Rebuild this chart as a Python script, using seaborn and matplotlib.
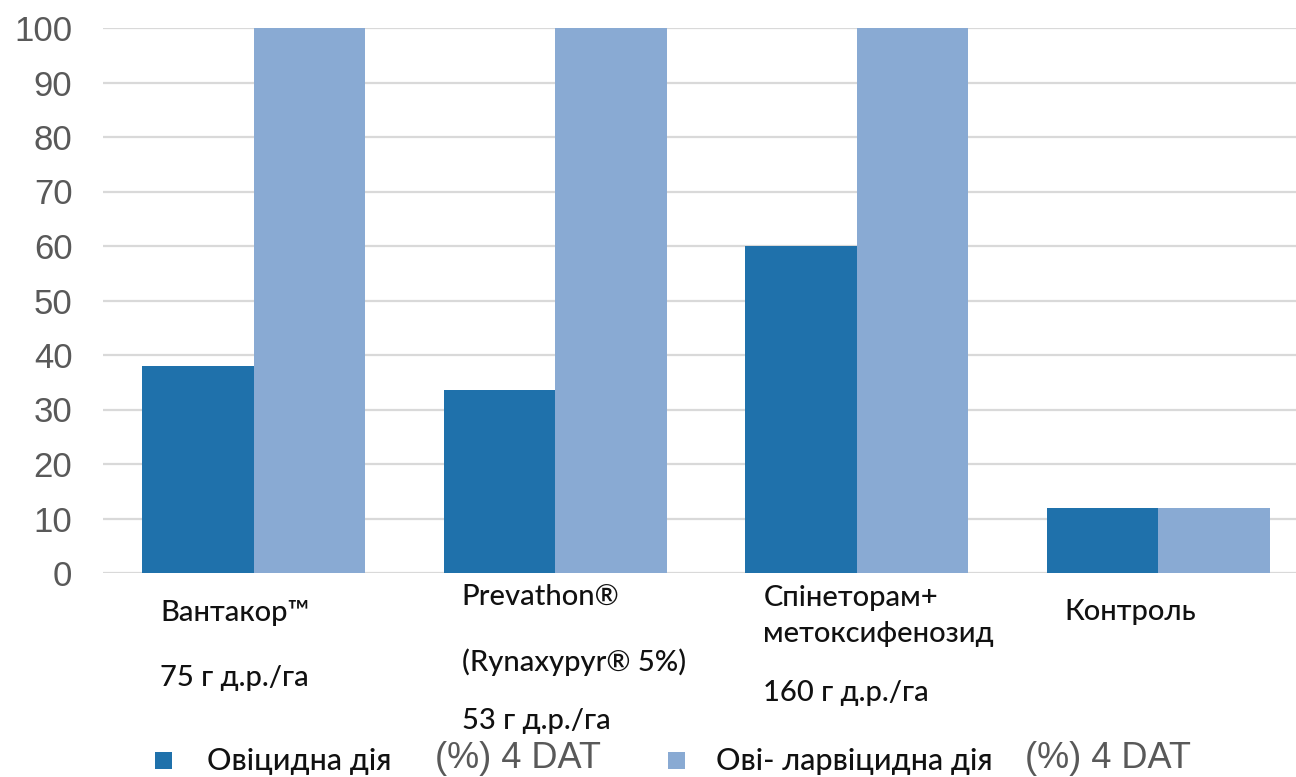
import numpy as np
import pandas as pd
import seaborn as sns
import matplotlib.pyplot as plt
import matplotlib.transforms as mtransforms
from matplotlib.patches import Rectangle

# Treatments and their multi-line captions
products = ["Вантакор™", "Prevathon®", "Спінеторам+", "Контроль"]
caption_lines = [
    ["Вантакор™", "75 г д.р./га"],
    ["Prevathon®", "(Rynaxypyr® 5%)", "53 г д.р./га"],
    ["Спінеторам+", "метоксифенозид", "160 г д.р./га"],
    ["Контроль"],
]

# Series names and values (%)
series = ["Овіцидна дія", "Ові- ларвіцидна дія"]
series_suffix = "(%) 4 DAT"
ovicidal = [37.9, 33.6, 60.0, 12.0]
ovi_larvicidal = [100.0, 100.0, 100.0, 12.0]
yticks = [0, 10, 20, 30, 40, 50, 60, 70, 80, 90, 100]

colors = ["#1f71ab", "#89aad3"]

df = pd.DataFrame({
    "product": products * 2,
    "series": [series[0]] * len(products) + [series[1]] * len(products),
    "value": ovicidal + ovi_larvicidal,
})

sns.set_theme(style="white")
plt.rcParams["font.family"] = ["Liberation Sans", "DejaVu Sans"]

W, H = 1296, 777
fig = plt.figure(figsize=(W / 100, H / 100), dpi=100)
ax_left, ax_right, ax_top, ax_bottom = 103, 1309, 28, 573
ax = fig.add_axes([ax_left / W, 1 - ax_bottom / H,
                   (ax_right - ax_left) / W, (ax_bottom - ax_top) / H])

sns.barplot(data=df, x="product", y="value", hue="series", order=products,
            hue_order=series, palette=colors, width=0.74, gap=0,
            linewidth=0, saturation=1, legend=False, ax=ax, zorder=3)

ax.set_xlim(-0.5, len(products) - 0.5)
ax.set_ylim(0, 100)
ax.set_yticks(yticks)
ax.set_yticklabels([str(t) for t in yticks], fontsize=25, color="#595959")
ax.tick_params(axis="y", length=0, pad=22)
ax.tick_params(axis="x", length=0, labelbottom=False)
ax.set_xlabel("")
ax.set_ylabel("")
for s in ax.spines.values():
    s.set_visible(False)
ax.yaxis.grid(True, color="#d9d9d9", linewidth=1.6, zorder=0)
ax.set_axisbelow(True)

# Category captions, left-aligned under each group
caption_font = ["Lato", "Noto Sans", "DejaVu Sans"]
line_y_px = [[613, 678], [597, 662, 721], [598, 634, 693], [612]]
trans = mtransforms.blended_transform_factory(ax.transData, ax.transAxes)
for i, lines in enumerate(caption_lines):
    for text, ypx in zip(lines, line_y_px[i]):
        ax.text(i - 0.31, (ax_bottom - ypx) / (ax_bottom - ax_top), text,
                transform=trans, ha="left", va="center", fontsize=21,
                fontweight="medium", color="#111111", family=caption_font,
                clip_on=False)

# Legend
leg_items = [(155, 207, 435), (668, 716, 1025)]
for (sx, tx, gx), name, col in zip(leg_items, series, colors):
    fig.patches.append(Rectangle((sx / W, 1 - 769 / H), 17 / W, 17 / H,
                                 transform=fig.transFigure, color=col,
                                 linewidth=0))
    fig.text(tx / W, 1 - 761 / H, name, ha="left", va="center",
             fontsize=22, fontweight="medium", color="#111111",
             family=caption_font)
    fig.text(gx / W, 1 - 758 / H, series_suffix, ha="left", va="center",
             fontsize=26, color="#595959")

fig.savefig("out.png", dpi=100, facecolor="white")
